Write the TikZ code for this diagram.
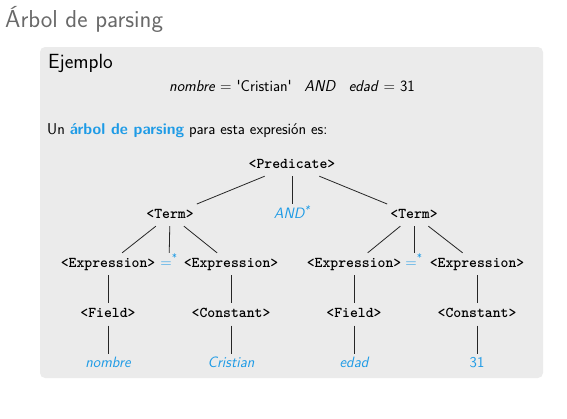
\documentclass[tikz,border=0pt]{standalone}
\usepackage{tikz}
\usetikzlibrary{positioning}
\renewcommand{\familydefault}{\sfdefault}
\definecolor{titlegray}{RGB}{105,105,105}
\definecolor{blockgray}{RGB}{235,235,235}
\definecolor{leafblue}{RGB}{30,155,230}
\tikzset{
  nt/.style={font=\fontsize{15}{18}\selectfont\ttfamily\bfseries, text height=9pt, text depth=3pt, inner xsep=3pt, inner ysep=5pt},
  leaf/.style={nt, font=\fontsize{15}{18}\selectfont\itshape, text=leafblue},
  leafup/.style={leaf, font=\fontsize{15}{18}\selectfont},
  txt/.style={anchor=base west, inner sep=0pt, font=\fontsize{15.7}{18}\selectfont},
  branch/.style={draw=black!85, line width=0.8pt}
}

\begin{document}
\begin{tikzpicture}[x=1pt, y=-1pt, node distance=28pt]
    \useasboundingbox (0,0) rectangle (567,418);
    \fill[blockgray, rounded corners=5pt] (40,47) rectangle (543,378);

    \node[txt, font=\fontsize{24.5}{28}\selectfont, text=titlegray] (title) at (5,27) {Árbol de parsing};
    \node[txt, font=\fontsize{20.5}{24}\selectfont] (ejemplo) at (48,68) {Ejemplo};
    \node[txt, anchor=base] (expr) at (292,91) {\textit{nombre} = \textquotesingle Cristian\textquotesingle\hspace{0.8em}\textit{AND}\hspace{0.8em}\textit{edad} = 31};
    \node[txt] (intro) at (47,134) {Un \textbf{\textcolor{leafblue}{árbol de parsing}} para esta expresión es:};

    % raiz y primer nivel
    \node[nt] (pred) at (292,165) {<Predicate>};
    \node[leaf, below=of pred] (and) {AND\textsuperscript{*}};
    \node[nt] (terml) at (170,215) {<Term>};
    \node[nt] (termr) at (414,215) {<Term>};

    % rama izquierda
    \node[nt] (exprl1) at (108,264) {<Expression>};
    \node[leafup] (eql) at (169,264) {=\textsuperscript{*}};
    \node[nt] (exprl2) at (231,264) {<Expression>};
    \node[nt, below=of exprl1] (fieldl) {<Field>};
    \node[nt, below=of exprl2] (constl) {<Constant>};
    \node[leaf, below=of fieldl] (nombre) {nombre};
    \node[leaf, below=of constl] (cristian) {Cristian};

    % rama derecha
    \node[nt] (exprr1) at (354,264) {<Expression>};
    \node[leafup] (eqr) at (414,264) {=\textsuperscript{*}};
    \node[nt] (exprr2) at (477,264) {<Expression>};
    \node[nt, below=of exprr1] (fieldr) {<Field>};
    \node[nt, below=of exprr2] (constr) {<Constant>};
    \node[leaf, below=of fieldr] (edad) {edad};
    \node[leafup, below=of constr] (num) {31};

    \draw[branch] (pred) -- (terml);
    \draw[branch] (pred) -- (and);
    \draw[branch] (pred) -- (termr);

    \draw[branch] (terml) -- (exprl1);
    \draw[branch] (terml) -- (eql);
    \draw[branch] (terml) -- (exprl2);
    \draw[branch] (exprl1) -- (fieldl);
    \draw[branch] (exprl2) -- (constl);
    \draw[branch] (fieldl) -- (nombre);
    \draw[branch] (constl) -- (cristian);

    \draw[branch] (termr) -- (exprr1);
    \draw[branch] (termr) -- (eqr);
    \draw[branch] (termr) -- (exprr2);
    \draw[branch] (exprr1) -- (fieldr);
    \draw[branch] (exprr2) -- (constr);
    \draw[branch] (fieldr) -- (edad);
    \draw[branch] (constr) -- (num);
  \end{tikzpicture}
\end{document}
